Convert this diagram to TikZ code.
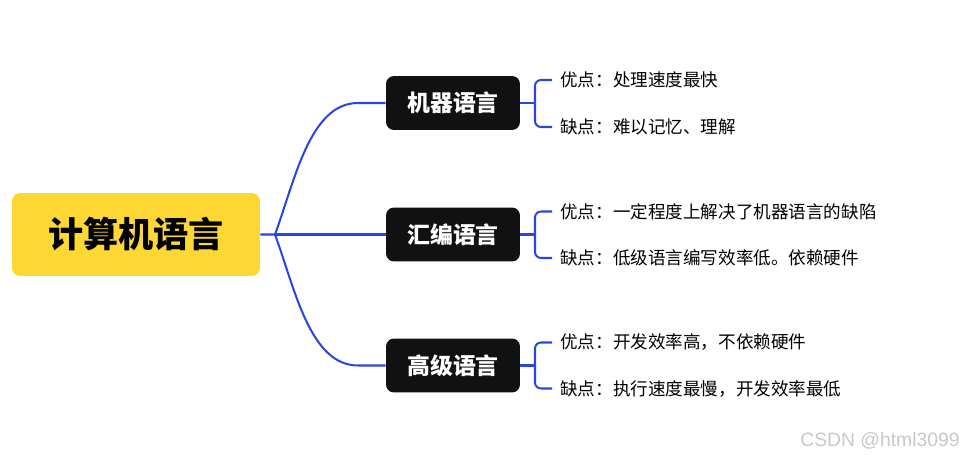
\documentclass[tikz,border=0pt]{standalone}
\usepackage{fontspec}
\newfontfamily\cjk{Noto Sans CJK SC}
\newfontfamily\markfont{Liberation Sans}
\usetikzlibrary{positioning}
\definecolor{RootYellow}{RGB}{253,216,53}
\definecolor{BoxBlack}{RGB}{17,17,17}
\definecolor{LinkBlue}{RGB}{43,70,220}
\definecolor{MarkGray}{RGB}{200,200,200}

\begin{document}
\begin{tikzpicture}[
    x=0.02cm, y=-0.02cm,
    root/.style={rectangle, rounded corners=0.16cm, fill=RootYellow,
        minimum width=4.96cm, minimum height=1.66cm, font=\cjk\bfseries\fontsize{20}{24}\selectfont, text=black},
    lang/.style={rectangle, rounded corners=0.16cm, fill=BoxBlack,
        minimum width=2.68cm, minimum height=1.08cm, font=\cjk\bfseries\fontsize{13}{16}\selectfont, text=white},
    leaf/.style={anchor=west, inner sep=0.16cm, font=\cjk\fontsize{10}{12}\selectfont, text=black},
    link/.style={draw=LinkBlue, line width=1.15pt},
    brace/.style={draw=LinkBlue, line width=1.15pt, rounded corners=0.12cm}
]
\useasboundingbox (0,0) rectangle (961,459);
\node[root] (c) at (136,234.5) {计算机语言};
\node[lang] (m1) at (453,103) {机器语言};
\node[lang] (m2) at (453,234.5) {汇编语言};
\node[lang] (m3) at (453,365.5) {高级语言};
\coordinate (j) at (275,234.5);
% left side
\draw[link] (c.east) -- (j) .. controls (295,180) and (310,103) .. (358,103) -- (m1.west);
\draw[link] (j) -- (m2.west);
\draw[link] (j) .. controls (295,289) and (310,365.5) .. (358,365.5) -- (m3.west);
% leaves
\node[leaf] (u1) at (552,80) {优点：处理速度最快};
\node[leaf] (d1) at (552,127) {缺点：难以记忆、理解};
\node[leaf] (u2) at (552,211.5) {优点：一定程度上解决了机器语言的缺陷};
\node[leaf] (d2) at (552,258) {缺点：低级语言编写效率低。依赖硬件};
\node[leaf] (u3) at (552,342.5) {优点：开发效率高，不依赖硬件};
\node[leaf] (d3) at (552,388.5) {缺点：执行速度最慢，开发效率最低};
\coordinate (b1) at (535,103);
\coordinate (b2) at (535,234.5);
\coordinate (b3) at (535,365.5);
\draw[link] (m1.east) -- (b1);
\draw[link] (m2.east) -- (b2);
\draw[link] (m3.east) -- (b3);
\draw[brace] (u1.west) -- (u1.west -| b1) -- (d1.west -| b1) -- (d1.west);
\draw[brace] (u2.west) -- (u2.west -| b2) -- (d2.west -| b2) -- (d2.west);
\draw[brace] (u3.west) -- (u3.west -| b3) -- (d3.west -| b3) -- (d3.west);
\node[font=\markfont\fontsize{11}{13}\selectfont, text=MarkGray] (wm) at (880,441) {CSDN @html3099};
\end{tikzpicture}
\end{document}
